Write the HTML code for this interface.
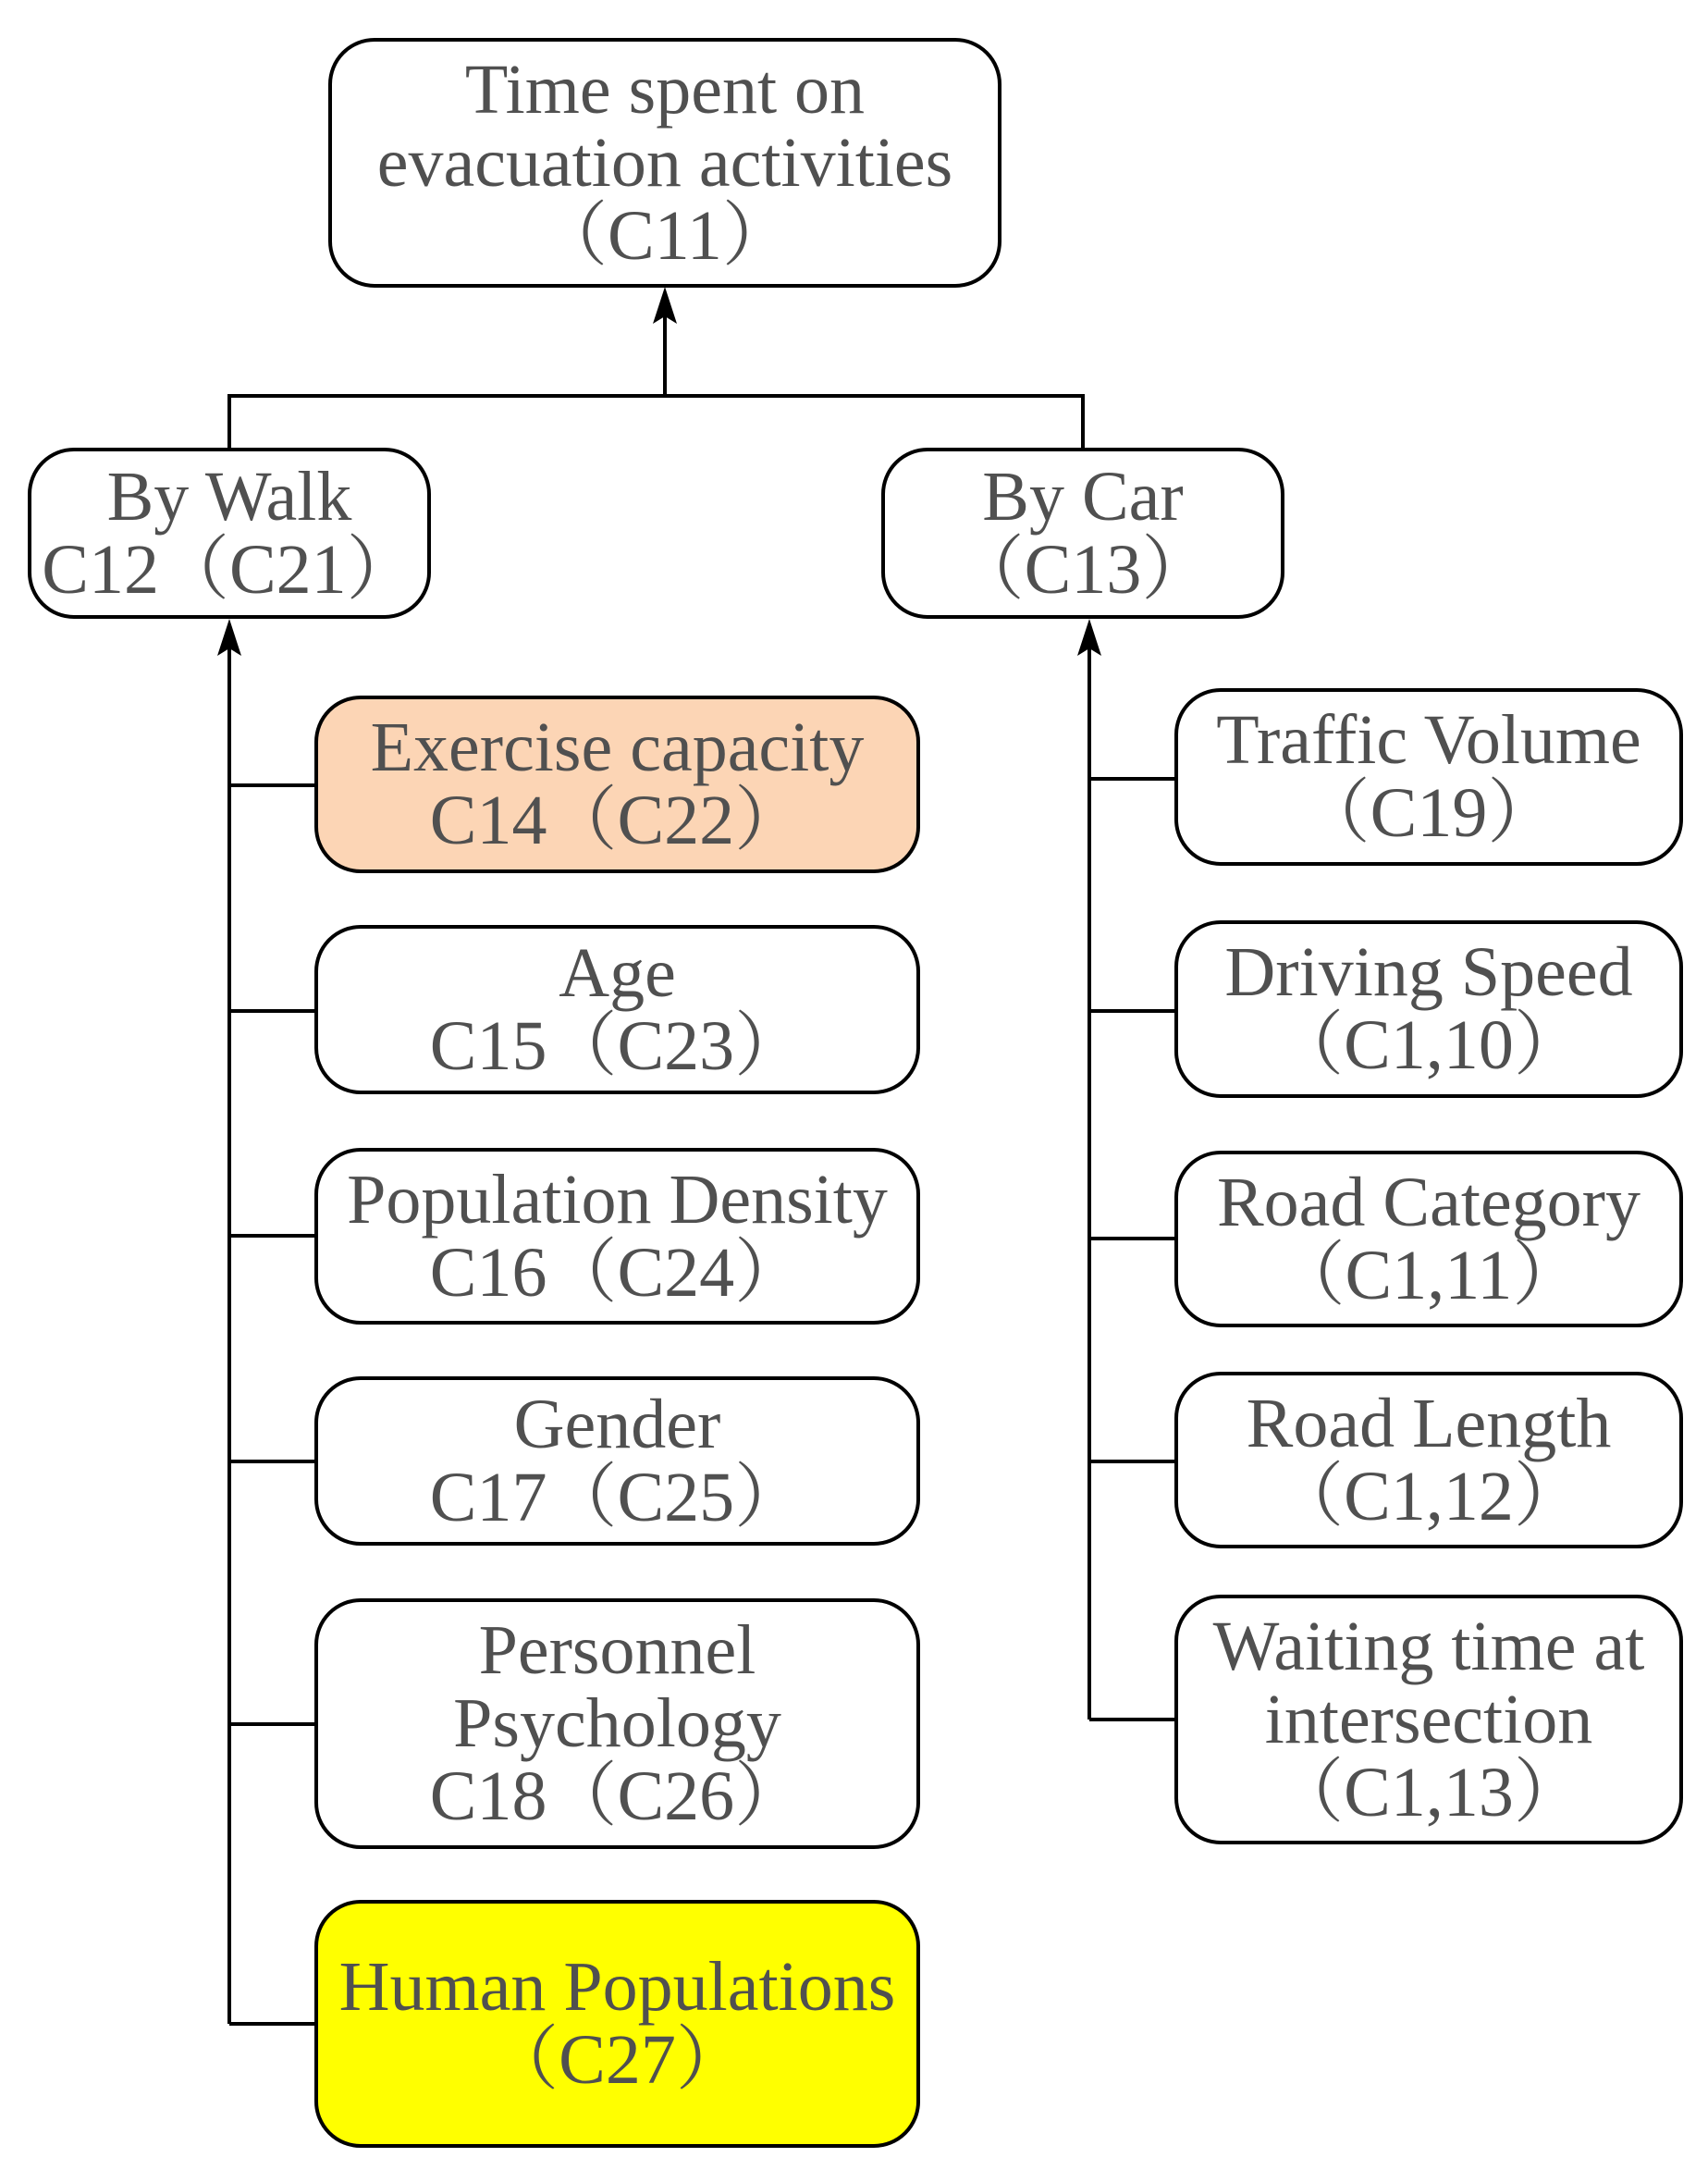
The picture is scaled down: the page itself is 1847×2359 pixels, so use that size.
<!DOCTYPE html>
<html><head><meta charset="utf-8"><style>
body{margin:0;background:#fff;}
#c{position:relative;width:1847px;height:2359px;overflow:hidden;font-family:"Liberation Serif","Noto Serif CJK SC",serif;color:#505050;}
.b{position:absolute;box-sizing:border-box;border:4.5px solid #000;border-radius:50px;display:flex;flex-direction:column;justify-content:center;align-items:center;font-size:76px;line-height:79px;text-align:center;white-space:nowrap;background:#fff;}
svg{position:absolute;left:0;top:0;}
</style></head><body><div id="c">
<svg width="1847" height="2359">
<g stroke="#000" stroke-width="4" fill="none">
<path d="M719 428V340M248 484V428H1171V484"/>
<path d="M248 2188V700M248 849H340M248 1093H340M248 1336H340M248 1580H340M248 1864H340M248 2188H340"/>
<path d="M1178 1859V700M1178 842H1270M1178 1093H1270M1178 1339H1270M1178 1580H1270M1178 1859H1270"/>
</g>
<g fill="#000">
<polygon points="719,310 706,350 719,342 732,350"/>
<polygon points="248,669 235,709 248,701 261,709"/>
<polygon points="1178,669 1165,709 1178,701 1191,709"/>
</g>
</svg>
<div class="b" style="left:355px;top:41px;width:728px;height:270px"><div>Time spent on</div><div>evacuation activities</div><div>（C11）</div></div>
<div class="b" style="left:30px;top:484px;width:436px;height:185px"><div>By Walk</div><div>C12（C21）</div></div>
<div class="b" style="left:953px;top:484px;width:436px;height:185px"><div>By Car</div><div>（C13）</div></div>
<div class="b" style="left:340px;top:752px;width:655px;height:192px;background:#fcd5b5"><div>Exercise capacity</div><div>C14（C22）</div></div>
<div class="b" style="left:340px;top:1000px;width:655px;height:183px"><div>Age</div><div>C15（C23）</div></div>
<div class="b" style="left:340px;top:1241px;width:655px;height:191px"><div>Population Density</div><div>C16（C24）</div></div>
<div class="b" style="left:340px;top:1488px;width:655px;height:183px"><div>Gender</div><div>C17（C25）</div></div>
<div class="b" style="left:340px;top:1728px;width:655px;height:271px"><div>Personnel</div><div>Psychology</div><div>C18（C26）</div></div>
<div class="b" style="left:340px;top:2054px;width:655px;height:268px;background:#ffff00"><div>Human Populations</div><div>（C27）</div></div>
<div class="b" style="left:1270px;top:744px;width:550px;height:192px"><div>Traffic Volume</div><div>（C19）</div></div>
<div class="b" style="left:1270px;top:995px;width:550px;height:192px"><div>Driving Speed</div><div>（C1,10）</div></div>
<div class="b" style="left:1270px;top:1244px;width:550px;height:191px"><div>Road Category</div><div>（C1,11）</div></div>
<div class="b" style="left:1270px;top:1483px;width:550px;height:191px"><div>Road Length</div><div>（C1,12）</div></div>
<div class="b" style="left:1270px;top:1724px;width:550px;height:270px"><div>Waiting time at</div><div>intersection</div><div>（C1,13）</div></div>
</div></body></html>
